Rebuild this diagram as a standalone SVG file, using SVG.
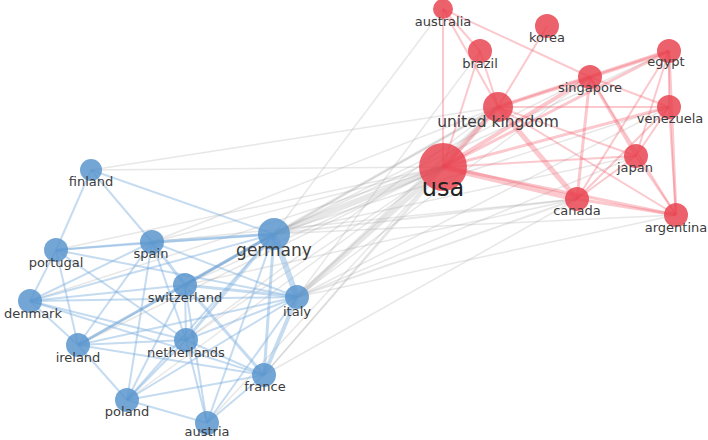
<svg xmlns="http://www.w3.org/2000/svg" width="708" height="440" viewBox="0 0 708 440">
<style>
.bg{fill:#ffffff}
.g{stroke:#a8a8a8;stroke-opacity:0.28;fill:none;stroke-width:1.5}
.r{stroke:#f06070;stroke-opacity:0.35;fill:none;stroke-width:2}
.b{stroke:#7fb0de;stroke-opacity:0.45;fill:none;stroke-width:2}
.rn{fill:#e8404c;fill-opacity:0.82}
.bn{fill:#5592cc;fill-opacity:0.82}
text{font-family:"DejaVu Sans","Liberation Sans",sans-serif;font-size:13px;fill:#3c3c3c;text-anchor:middle}
</style>
<rect class="bg" x="0" y="0" width="708" height="440"/>
<g id="connectors">
<line class="g" x1="274" y1="234" x2="443" y2="167" style="stroke-width:6"/>
<line class="g" x1="297" y1="297" x2="443" y2="167" style="stroke-width:5"/>
<line class="g" x1="274" y1="234" x2="498" y2="107" style="stroke-width:3"/>
<line class="g" x1="297" y1="297" x2="498" y2="107" style="stroke-width:3"/>
<line class="g" x1="274" y1="234" x2="590" y2="77"/>
<line class="g" x1="274" y1="234" x2="577" y2="199" style="stroke-width:2"/>
<line class="g" x1="274" y1="234" x2="676" y2="215"/>
<line class="g" x1="274" y1="234" x2="636" y2="156"/>
<line class="g" x1="274" y1="234" x2="669" y2="107"/>
<line class="g" x1="274" y1="234" x2="669" y2="51"/>
<line class="g" x1="274" y1="234" x2="443" y2="9"/>
<line class="g" x1="297" y1="297" x2="480" y2="51"/>
<line class="g" x1="297" y1="297" x2="577" y2="199" style="stroke-width:2"/>
<line class="g" x1="297" y1="297" x2="676" y2="215"/>
<line class="g" x1="297" y1="297" x2="636" y2="156"/>
<line class="g" x1="297" y1="297" x2="590" y2="77"/>
<line class="g" x1="297" y1="297" x2="669" y2="107"/>
<line class="g" x1="91" y1="170" x2="443" y2="167"/>
<line class="g" x1="91" y1="170" x2="498" y2="107"/>
<line class="g" x1="152" y1="242" x2="443" y2="167"/>
<line class="g" x1="152" y1="242" x2="498" y2="107"/>
<line class="g" x1="152" y1="242" x2="577" y2="199"/>
<line class="g" x1="56" y1="250" x2="443" y2="167"/>
<line class="g" x1="185" y1="285" x2="443" y2="167"/>
<line class="g" x1="185" y1="285" x2="498" y2="107"/>
<line class="g" x1="185" y1="285" x2="577" y2="199"/>
<line class="g" x1="30" y1="301" x2="443" y2="167"/>
<line class="g" x1="186" y1="340" x2="443" y2="167"/>
<line class="g" x1="186" y1="340" x2="498" y2="107"/>
<line class="g" x1="264" y1="375" x2="443" y2="167"/>
<line class="g" x1="264" y1="375" x2="498" y2="107"/>
<line class="g" x1="264" y1="375" x2="577" y2="199"/>
<line class="g" x1="78" y1="345" x2="443" y2="167"/>
<line class="g" x1="207" y1="423" x2="498" y2="107"/>
<line class="g" x1="127" y1="400" x2="443" y2="167"/>
<line class="r" x1="443" y1="9" x2="443" y2="167"/>
<line class="r" x1="443" y1="9" x2="480" y2="51"/>
<line class="r" x1="443" y1="9" x2="498" y2="107"/>
<line class="r" x1="443" y1="9" x2="590" y2="77"/>
<line class="r" x1="547" y1="26" x2="498" y2="107"/>
<line class="r" x1="480" y1="51" x2="498" y2="107"/>
<line class="r" x1="480" y1="51" x2="443" y2="167"/>
<line class="r" x1="498" y1="107" x2="590" y2="77" style="stroke-width:4"/>
<line class="r" x1="498" y1="107" x2="669" y2="107"/>
<line class="r" x1="498" y1="107" x2="669" y2="51"/>
<line class="r" x1="498" y1="107" x2="443" y2="167" style="stroke-width:5"/>
<line class="r" x1="498" y1="107" x2="577" y2="199" style="stroke-width:5"/>
<line class="r" x1="498" y1="107" x2="636" y2="156"/>
<line class="r" x1="498" y1="107" x2="676" y2="215"/>
<line class="r" x1="590" y1="77" x2="669" y2="51" style="stroke-width:4"/>
<line class="r" x1="590" y1="77" x2="669" y2="107"/>
<line class="r" x1="590" y1="77" x2="636" y2="156" style="stroke-width:3"/>
<line class="r" x1="590" y1="77" x2="577" y2="199" style="stroke-width:3"/>
<line class="r" x1="590" y1="77" x2="443" y2="167" style="stroke-width:4"/>
<line class="r" x1="590" y1="77" x2="676" y2="215"/>
<line class="r" x1="669" y1="51" x2="669" y2="107"/>
<line class="r" x1="669" y1="51" x2="676" y2="215" style="stroke-width:3"/>
<line class="r" x1="669" y1="51" x2="577" y2="199"/>
<line class="r" x1="669" y1="51" x2="636" y2="156"/>
<line class="r" x1="669" y1="51" x2="443" y2="167" style="stroke-width:3"/>
<line class="r" x1="669" y1="107" x2="443" y2="167" style="stroke-width:3"/>
<line class="r" x1="669" y1="107" x2="577" y2="199"/>
<line class="r" x1="669" y1="107" x2="636" y2="156"/>
<line class="r" x1="669" y1="107" x2="676" y2="215"/>
<line class="r" x1="636" y1="156" x2="443" y2="167"/>
<line class="r" x1="636" y1="156" x2="577" y2="199"/>
<line class="r" x1="636" y1="156" x2="676" y2="215"/>
<line class="r" x1="443" y1="167" x2="577" y2="199" style="stroke-width:6"/>
<line class="r" x1="443" y1="167" x2="676" y2="215" style="stroke-width:3"/>
<line class="r" x1="577" y1="199" x2="676" y2="215" style="stroke-width:3"/>
<line class="b" x1="91" y1="170" x2="56" y2="250"/>
<line class="b" x1="91" y1="170" x2="152" y2="242"/>
<line class="b" x1="91" y1="170" x2="274" y2="234"/>
<line class="b" x1="56" y1="250" x2="152" y2="242"/>
<line class="b" x1="56" y1="250" x2="274" y2="234"/>
<line class="b" x1="56" y1="250" x2="30" y2="301"/>
<line class="b" x1="56" y1="250" x2="78" y2="345"/>
<line class="b" x1="56" y1="250" x2="297" y2="297"/>
<line class="b" x1="56" y1="250" x2="186" y2="340"/>
<line class="b" x1="152" y1="242" x2="274" y2="234" style="stroke-width:3"/>
<line class="b" x1="152" y1="242" x2="185" y2="285" style="stroke-width:3"/>
<line class="b" x1="152" y1="242" x2="30" y2="301"/>
<line class="b" x1="152" y1="242" x2="78" y2="345"/>
<line class="b" x1="152" y1="242" x2="127" y2="400"/>
<line class="b" x1="152" y1="242" x2="186" y2="340"/>
<line class="b" x1="152" y1="242" x2="297" y2="297"/>
<line class="b" x1="274" y1="234" x2="185" y2="285" style="stroke-width:3"/>
<line class="b" x1="274" y1="234" x2="78" y2="345" style="stroke-width:3;stroke:#5f97cb"/>
<line class="b" x1="274" y1="234" x2="297" y2="297" style="stroke-width:6"/>
<line class="b" x1="274" y1="234" x2="264" y2="375" style="stroke-width:3"/>
<line class="b" x1="274" y1="234" x2="186" y2="340" style="stroke-width:3"/>
<line class="b" x1="274" y1="234" x2="30" y2="301"/>
<line class="b" x1="274" y1="234" x2="207" y2="423"/>
<line class="b" x1="274" y1="234" x2="127" y2="400"/>
<line class="b" x1="185" y1="285" x2="297" y2="297" style="stroke-width:3"/>
<line class="b" x1="185" y1="285" x2="30" y2="301"/>
<line class="b" x1="185" y1="285" x2="264" y2="375" style="stroke-width:3"/>
<line class="b" x1="185" y1="285" x2="186" y2="340"/>
<line class="b" x1="185" y1="285" x2="127" y2="400"/>
<line class="b" x1="185" y1="285" x2="207" y2="423"/>
<line class="b" x1="185" y1="285" x2="78" y2="345"/>
<line class="b" x1="30" y1="301" x2="297" y2="297"/>
<line class="b" x1="30" y1="301" x2="78" y2="345"/>
<line class="b" x1="30" y1="301" x2="186" y2="340"/>
<line class="b" x1="30" y1="301" x2="264" y2="375"/>
<line class="b" x1="297" y1="297" x2="78" y2="345"/>
<line class="b" x1="297" y1="297" x2="186" y2="340"/>
<line class="b" x1="297" y1="297" x2="264" y2="375" style="stroke-width:4"/>
<line class="b" x1="297" y1="297" x2="127" y2="400"/>
<line class="b" x1="297" y1="297" x2="207" y2="423"/>
<line class="b" x1="78" y1="345" x2="186" y2="340"/>
<line class="b" x1="78" y1="345" x2="264" y2="375"/>
<line class="b" x1="78" y1="345" x2="127" y2="400"/>
<line class="b" x1="186" y1="340" x2="264" y2="375"/>
<line class="b" x1="186" y1="340" x2="127" y2="400"/>
<line class="b" x1="186" y1="340" x2="207" y2="423"/>
<line class="b" x1="264" y1="375" x2="127" y2="400"/>
<line class="b" x1="264" y1="375" x2="207" y2="423"/>
<line class="b" x1="127" y1="400" x2="207" y2="423"/>
</g>
<g id="australia"><circle class="rn" cx="443" cy="9" r="10"/><text x="443" y="26">australia</text></g>
<g id="korea"><circle class="rn" cx="547" cy="26" r="12"/><text x="547" y="42">korea</text></g>
<g id="brazil"><circle class="rn" cx="480" cy="51" r="12"/><text x="480" y="68">brazil</text></g>
<g id="egypt"><circle class="rn" cx="669" cy="51" r="12"/><text x="666" y="66">egypt</text></g>
<g id="singapore"><circle class="rn" cx="590" cy="77" r="12"/><text x="590" y="92">singapore</text></g>
<g id="united-kingdom"><circle class="rn" cx="498" cy="107" r="15"/><text x="498" y="127" style="font-size:15.5px">united kingdom</text></g>
<g id="venezuela"><circle class="rn" cx="669" cy="107" r="12"/><text x="670" y="123">venezuela</text></g>
<g id="japan"><circle class="rn" cx="636" cy="156" r="12"/><text x="635" y="172">japan</text></g>
<g id="usa"><circle class="rn" cx="443" cy="167" r="24"/><text x="443" y="196" style="font-size:24px;fill:#222">usa</text></g>
<g id="canada"><circle class="rn" cx="577" cy="199" r="12"/><text x="577" y="215">canada</text></g>
<g id="argentina"><circle class="rn" cx="676" cy="215" r="12"/><text x="676" y="232">argentina</text></g>
<g id="finland"><circle class="bn" cx="91" cy="170" r="11"/><text x="91" y="186">finland</text></g>
<g id="germany"><circle class="bn" cx="274" cy="234" r="16"/><text x="274" y="256" style="font-size:17px">germany</text></g>
<g id="spain"><circle class="bn" cx="152" cy="242" r="12"/><text x="151" y="258">spain</text></g>
<g id="portugal"><circle class="bn" cx="56" cy="250" r="12"/><text x="56" y="267">portugal</text></g>
<g id="switzerland"><circle class="bn" cx="185" cy="285" r="12"/><text x="185" y="302">switzerland</text></g>
<g id="denmark"><circle class="bn" cx="30" cy="301" r="12"/><text x="33" y="318">denmark</text></g>
<g id="italy"><circle class="bn" cx="297" cy="297" r="12"/><text x="297" y="316">italy</text></g>
<g id="ireland"><circle class="bn" cx="78" cy="345" r="12"/><text x="78" y="362">ireland</text></g>
<g id="netherlands"><circle class="bn" cx="186" cy="340" r="12"/><text x="186" y="357">netherlands</text></g>
<g id="france"><circle class="bn" cx="264" cy="375" r="12"/><text x="265" y="391">france</text></g>
<g id="poland"><circle class="bn" cx="127" cy="400" r="12"/><text x="127" y="416">poland</text></g>
<g id="austria"><circle class="bn" cx="207" cy="423" r="12"/><text x="207" y="436">austria</text></g>
</svg>
